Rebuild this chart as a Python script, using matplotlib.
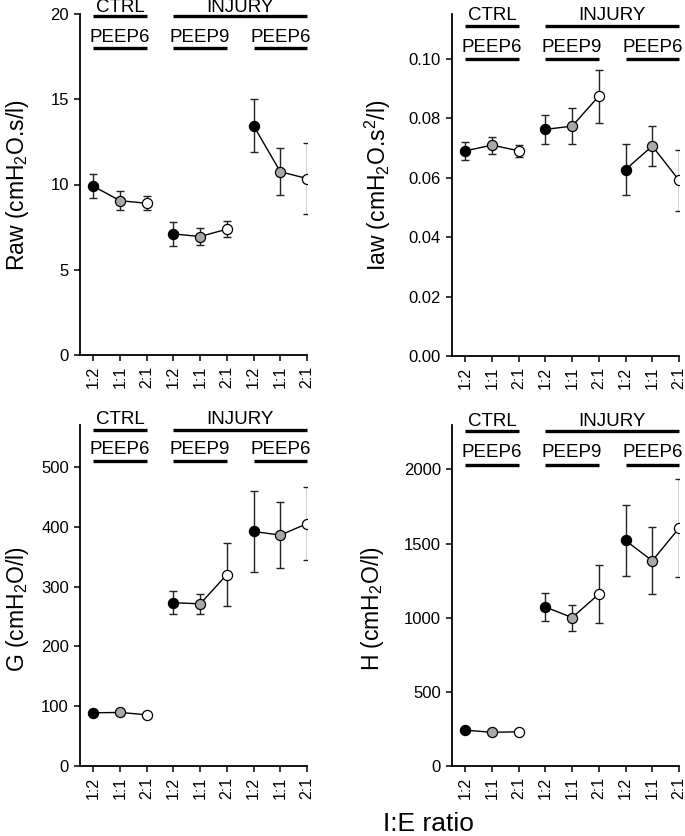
import matplotlib
matplotlib.use("Agg")
import matplotlib.pyplot as plt
import matplotlib.transforms as mtransforms
import numpy as np

plt.rcParams["font.family"] = ["Liberation Sans", "DejaVu Sans"]
plt.rcParams["mathtext.default"] = "regular"

W, H = 685, 836

ratios = ["1:2", "1:1", "2:1"] * 3
positions = np.arange(1, 10)
fills = ["black", "#a8a8a8", "white"] * 3

raw_mean = [9.9, 9.05, 8.9, 7.1, 6.95, 7.38, 13.45, 10.75, 10.35]
raw_err = [0.72, 0.55, 0.4, 0.7, 0.52, 0.45, 1.55, 1.38, 2.08]

iaw_mean = [0.069, 0.0709, 0.069, 0.0762, 0.0773, 0.0874, 0.0627, 0.0706, 0.0591]
iaw_err = [0.0031, 0.0029, 0.002, 0.0048, 0.006, 0.0089, 0.0086, 0.0066, 0.0102]

g_mean = [89, 89.5, 85.6, 273, 271, 320, 392, 386, 405]
g_err = [5, 4, 5, 19, 17, 52, 67, 55, 61]

h_mean = [242, 227, 231, 1072, 1001, 1160, 1521, 1384, 1604]
h_err = [15, 12, 14, 95, 88, 197, 238, 225, 329]

# panel boxes in pixels: left, right, top, bottom
panels = [
    dict(box=(80, 307, 14, 355), mean=raw_mean, err=raw_err, ylim=20,
         yticks=[0, 5, 10, 15, 20], fmt="{:g}",
         ylabel="Raw (cmH$_2$O.s/l)", lab_xy=(18, 185),
         hdr=(7, 15.7, 38, 48)),
    dict(box=(452, 679, 14, 356), mean=iaw_mean, err=iaw_err, ylim=0.115,
         yticks=[0, 0.02, 0.04, 0.06, 0.08, 0.10], fmt="{:.2f}",
         ylabel="Iaw (cmH$_2$O.s$^2$/l)", lab_xy=(378, 185),
         hdr=(16, 26, 48, 59)),
    dict(box=(80, 307, 425, 766), mean=g_mean, err=g_err, ylim=570,
         yticks=[0, 100, 200, 300, 400, 500], fmt="{:g}",
         ylabel="G (cmH$_2$O/l)", lab_xy=(18, 609),
         hdr=(420, 430, 450, 461)),
    dict(box=(452, 679, 425, 766), mean=h_mean, err=h_err, ylim=2300,
         yticks=[0, 500, 1000, 1500, 2000], fmt="{:g}",
         ylabel="H (cmH$_2$O/l)", lab_xy=(373, 609),
         hdr=(421, 431, 452, 465)),
]

fig = plt.figure(figsize=(W / 100, H / 100), dpi=100)


def fy(py):
    return 1 - py / H


for p in panels:
    l, r, t, b = p["box"]
    ax = fig.add_axes([l / W, fy(b), (r - l) / W, (b - t) / H])
    mean = np.array(p["mean"])
    err = np.array(p["err"])
    for g in range(3):
        s = slice(3 * g, 3 * g + 3)
        ax.plot(positions[s], mean[s], color="black", lw=1, zorder=2)
    for x, m, e, c in zip(positions, mean, err, fills):
        ax.errorbar(x, m, yerr=e, fmt="none", ecolor="#222222", elinewidth=1,
                    capsize=3.2, capthick=1, zorder=1)
        ax.plot(x, m, "o", ms=7.3, mfc=c, mec="black", mew=0.9, zorder=3)

    ax.set_xlim(0.5, 9)
    ax.set_ylim(0, p["ylim"])
    ax.set_xticks(positions)
    ax.set_xticklabels(ratios, rotation=90, fontsize=11.5)
    ax.set_yticks(p["yticks"])
    ax.set_yticklabels([p["fmt"].format(v) for v in p["yticks"]], fontsize=12)
    ax.tick_params(direction="out", length=4, width=1.1, pad=4)
    for side in ["top", "right"]:
        ax.spines[side].set_visible(False)
    for side in ["left", "bottom"]:
        ax.spines[side].set_linewidth(1.3)

    fig.text(p["lab_xy"][0] / W, fy(p["lab_xy"][1]), p["ylabel"], rotation=90,
             ha="center", va="center", fontsize=16.5)

    # group header bars
    trans = mtransforms.blended_transform_factory(ax.transData, fig.transFigure)
    t1, b1, t2, b2 = p["hdr"]
    for x0, x1, txt, ty, by in [(1, 3, "CTRL", t1, b1), (4, 9, "INJURY", t1, b1),
                                 (1, 3, "PEEP6", t2, b2), (4, 6, "PEEP9", t2, b2),
                                 (7, 9, "PEEP6", t2, b2)]:
        ax.plot([x0, x1], [fy(by), fy(by)], color="black", lw=2.4,
                solid_capstyle="butt", transform=trans, clip_on=False)
        ax.text((x0 + x1) / 2, fy(ty), txt, transform=trans, ha="center",
                va="center", fontsize=13.5)

fig.text(428 / W, fy(824), "I:E ratio", ha="center", va="center", fontsize=19)

fig.savefig("out.png", dpi=100)
